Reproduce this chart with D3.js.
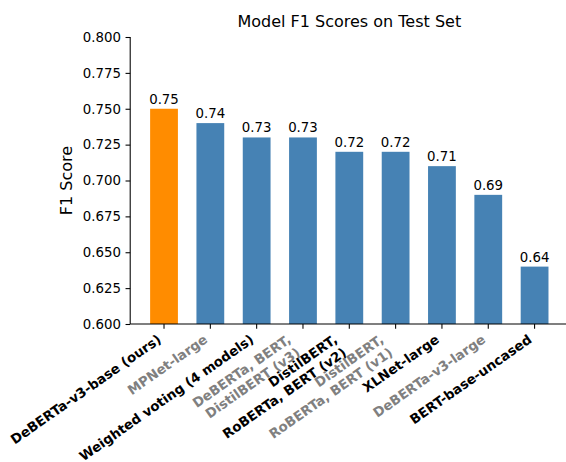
<!DOCTYPE html>
<html>
<head>
<meta charset="utf-8">
<script src="https://cdn.jsdelivr.net/npm/d3@7"></script>
<style>
  body { margin: 0; background: #fff; }
  svg { display: block; font-family: "DejaVu Sans", sans-serif; }
</style>
</head>
<body>
<div id="chart"></div>
<script>
// model names (multi-line labels split on \n)
var models = [
  "DeBERTa-v3-base (ours)",
  "MPNet-large",
  "Weighted voting (4 models)",
  "DeBERTa, BERT,\nDistilBERT (v3)",
  "DistilBERT,\nRoBERTa, BERT (v2)",
  "DistilBERT,\nRoBERTa, BERT (v1)",
  "XLNet-large",
  "DeBERTa-v3-large",
  "BERT-base-uncased"
];
var f1Scores = [0.75, 0.74, 0.73, 0.73, 0.72, 0.72, 0.71, 0.69, 0.64];
var yTicks = [0.600, 0.625, 0.650, 0.675, 0.700, 0.725, 0.750, 0.775, 0.800];
// label colour per model: black or gray
var labelColors = ["#000", "#808080", "#000", "#808080", "#000", "#808080", "#000", "#808080", "#000"];

var width = 566, height = 462;
var mLeft = 130.2, mRight = 568.4, mTop = 37, mBottom = 324;
var fs = 13.33;

var svg = d3.select("#chart").append("svg")
  .attr("width", width).attr("height", height);

var x = d3.scaleBand().domain(models).range([mLeft, mRight])
  .paddingInner(0.4).paddingOuter(0.43);
var y = d3.scaleLinear().domain([0.6, 0.8]).range([mBottom, mTop]);

// bars
svg.selectAll(".bar").data(models).enter().append("rect")
  .attr("class", "bar")
  .attr("x", function (d) { return x(d); })
  .attr("width", x.bandwidth())
  .attr("y", function (d, i) { return y(f1Scores[i]); })
  .attr("height", function (d, i) { return mBottom - y(f1Scores[i]); })
  .attr("fill", function (d, i) { return i === 0 ? "#ff8c00" : "#4682b4"; });

// value labels
svg.selectAll(".val").data(models).enter().append("text")
  .attr("x", function (d) { return x(d) + x.bandwidth() / 2; })
  .attr("y", function (d, i) { return y(f1Scores[i]) - 5; })
  .attr("text-anchor", "middle")
  .attr("font-size", fs)
  .text(function (d, i) { return f1Scores[i].toFixed(2); });

// y axis
var yAxis = svg.append("g")
  .attr("transform", "translate(" + mLeft + ",0)")
  .call(d3.axisLeft(y).tickValues(yTicks).tickFormat(d3.format(".3f"))
    .tickSize(4.67).tickPadding(4.67));
yAxis.select(".domain").attr("stroke-width", 1.07).attr("d", "M0," + mBottom + "V" + mTop);
yAxis.selectAll(".tick line").attr("stroke-width", 1.07);
yAxis.selectAll(".tick text").attr("font-size", fs).attr("font-family", "DejaVu Sans").attr("fill", "#000");

// x axis line + ticks
var xAxis = svg.append("g")
  .attr("transform", "translate(0," + mBottom + ")")
  .call(d3.axisBottom(x).tickSize(4.67).tickFormat(""));
xAxis.select(".domain").attr("stroke-width", 1.07).attr("d", "M" + mLeft + ",0H" + mRight);
xAxis.selectAll(".tick line").attr("stroke-width", 1.07);

// rotated x tick labels (matplotlib style: ha right, rotation 35)
var theta = 35 * Math.PI / 180;
models.forEach(function (name, i) {
  var lines = name.split("\n");
  var H = (lines.length - 1) * 1.2 * fs + 1.0 * fs;
  var cx = x(name) + x.bandwidth() / 2;
  var cy = mBottom + 9.3 + H * Math.cos(theta);
  var g = svg.append("g")
    .attr("transform", "translate(" + cx + "," + cy + ") rotate(-35)");
  lines.forEach(function (ln, k) {
    g.append("text")
      .attr("x", 0)
      .attr("y", -0.24 * fs - (lines.length - 1 - k) * 1.2 * fs)
      .attr("text-anchor", "end")
      .attr("font-size", fs)
      .attr("font-weight", "bold")
      .attr("fill", labelColors[i])
      .text(ln);
  });
});

// y label
svg.append("text")
  .attr("transform", "translate(72," + (mTop + mBottom) / 2 + ") rotate(-90)")
  .attr("text-anchor", "middle")
  .attr("font-size", 16)
  .text("F1 Score");

// title
svg.append("text")
  .attr("x", (mLeft + mRight) / 2)
  .attr("y", 27)
  .attr("text-anchor", "middle")
  .attr("font-size", 16)
  .text("Model F1 Scores on Test Set");
</script>
</body>
</html>
